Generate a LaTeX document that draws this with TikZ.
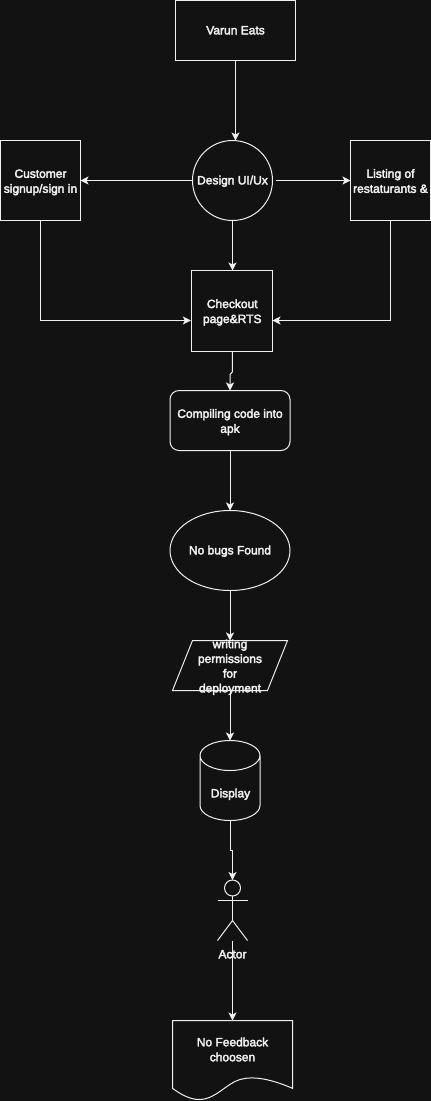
\documentclass[tikz,border=0pt]{standalone}
\usepackage{fontspec}
\usetikzlibrary{arrows.meta,shapes.geometric}
\newfontfamily\lab[FakeBold=3]{Liberation Sans}
\definecolor{bgdark}{HTML}{121212}
\definecolor{inkwhite}{HTML}{F0F0F0}
\newcommand\onel{\rule[-2.2pt]{0pt}{10.2pt}}
\newcommand\topl{\rule{0pt}{9.5pt}}
\newcommand\botl{\rule[-2.3pt]{0pt}{2.3pt}}
\tikzset{
  x=0.75pt,y=-0.75pt,
  every node/.style={text=inkwhite,inner sep=0pt,outer sep=0pt,align=center,font=\lab\fontsize{9}{11.25}\selectfont},
  shapeline/.style={draw=inkwhite,line width=0.75pt},
  boxnode/.style={shapeline,rectangle},
  conn/.style={draw=inkwhite,line width=0.75pt,-{Stealth[length=6pt,width=6pt,inset=1.5pt]}},
}
\begin{document}
\begin{tikzpicture}
\fill[bgdark] (0,0) rectangle (431,1101);
\useasboundingbox (0,0) rectangle (431,1101);

\node[boxnode,minimum width=90pt,minimum height=45pt] (varun) at (235.5,30.5) {\onel Varun Eats};
\node[shapeline,circle,minimum size=60pt] (design) at (232.5,180.5) {\onel Design UI/Ux};
\node[boxnode,minimum width=60pt,minimum height=60pt] (customer) at (40.5,180.5) {\topl Customer\\signup/sign in\botl};
\node[boxnode,minimum width=60pt,minimum height=60pt] (listing) at (390.5,180.5) {\topl Listing of\\restaturants \&\botl};
\node[boxnode,minimum width=60.4pt,minimum height=60.4pt] (checkout) at (232.25,310.75) {\topl Checkout\\page\&RTS\botl};
\node[boxnode,rounded corners=6.75pt,minimum width=90pt,minimum height=45pt] (compile) at (230,420.5) {\topl Compiling code into\\apk\botl};
\node[shapeline,ellipse,minimum width=90pt,minimum height=60pt] (bugs) at (230,550.5) {\onel No bugs Found};

% parallelogram
\coordinate (pnw) at (192.5,640.5);
\coordinate (pne) at (287.5,640.5);
\coordinate (pse) at (267.5,690.5);
\coordinate (psw) at (172.5,690.5);
\draw[shapeline] (pnw) -- (pne) -- (pse) -- (psw) -- cycle;
\coordinate (ptop) at (230,640.5);
\coordinate (pbot) at (230,690.5);

% cylinder
\coordinate (cyltop) at (230,740.5);
\coordinate (cylbot) at (230,820.5);
\draw[shapeline] (200,755.5) arc[start angle=180,end angle=360,x radius=22.5pt,y radius=11.25pt]
  arc[start angle=0,end angle=180,x radius=22.5pt,y radius=11.25pt] -- (200,805.5)
  arc[start angle=180,end angle=360,x radius=22.5pt,y radius=11.25pt] -- (260,755.5);

% actor
\node[shapeline,circle,minimum size=12pt] (head) at (232.5,888) {};
\coordinate (hip) at (232.5,920.5);
\coordinate (feet) at (232.5,940.5);
\draw[shapeline] (head.south) -- (hip);
\draw[shapeline] (217.5,900.5) -- (247.5,900.5);
\draw[shapeline] (217.5,940.5) -- (hip) -- (247.5,940.5);

% document
\node[minimum width=90pt,minimum height=42.75pt] (doc) at (232.5,1049) {\topl No Feedback\\choosen\botl};
\draw[shapeline] (172.5,1088.3) -- (doc.north west) -- (doc.north east) -- (292.5,1088.3)
  .. controls (272,1079.5) and (254,1075.5) .. (240,1079.5)
  .. controls (226,1083.5) and (216,1099.5) .. (199,1099.5)
  .. controls (190,1099.5) and (180,1094) .. (172.5,1088.3);

% labels drawn over the shapes
\node (writing) at (230,665.5) {\topl writing\\[-0.2pt]permissions\\[-0.2pt]for\\[-0.2pt]deployment\botl};
\node (display) at (230.5,793.5) {\onel Display};

% elbow targets on the checkout box
\coordinate (checkoutL) at (190.8,320.5);
\coordinate (checkoutR) at (272.5,320.5);

% connectors
\draw[conn] (varun.south) -- (varun.south |- design.north);
\draw[conn] (design.west) -- (customer.east);
\draw[conn,shorten <=2.5pt] (design.east) -- (listing.west);
\draw[conn] (design.south) -- (design.south |- checkout.north);
\draw[conn] (customer.south) |- (checkoutL);
\draw[conn] (listing.south) |- (checkoutR);
\draw[conn] (checkout.south) -- (232.25,372) -- (230,374.5) -- (compile.north);
\draw[conn] (compile.south) -- (bugs.north);
\draw[conn] (bugs.south) -- (ptop);
\draw[conn] (pbot) -- (cyltop);
\draw[conn] (cylbot) -- (230,850.5) -- (232.5,850.5) -- (head.north);
\draw[conn] (feet) -- (doc.north);
\node (actor) at (232.5,954.5) {\onel Actor};
\end{tikzpicture}
\end{document}
